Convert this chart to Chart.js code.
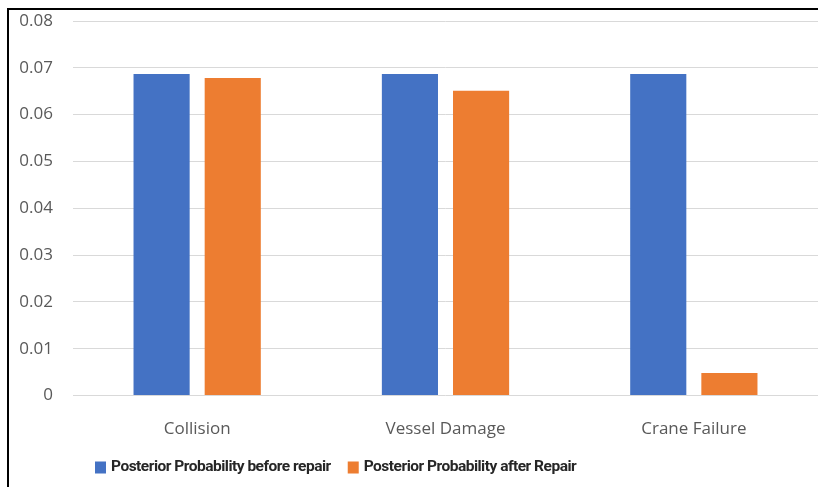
<!DOCTYPE html>
<html>
<head>
<meta charset="utf-8">
<script src="https://cdn.jsdelivr.net/npm/chart.js@4.4.1/dist/chart.umd.min.js"></script>
<style>
  html, body { margin: 0; padding: 0; background: #ffffff; }
  #wrap { width: 818px; height: 487px; position: relative; }
</style>
</head>
<body>
<div id="wrap"><canvas id="c" width="818" height="487"></canvas></div>
<script>
const categories = ['Collision', 'Vessel Damage', 'Crane Failure'];
const seriesNames = ['Posterior Probability before repair', 'Posterior Probability after Repair'];
const beforeRepair = [0.0687, 0.0687, 0.0687];
const afterRepair = [0.0678, 0.0651, 0.0048];
const yTickLabels = ['0', '0.01', '0.02', '0.03', '0.04', '0.05', '0.06', '0.07', '0.08'];

const BLUE = '#4472C4';
const ORANGE = '#ED7D31';
const TEXT = '#595959';

const framePlugin = {
  id: 'frame',
  beforeDraw(chart) {
    const ctx = chart.ctx;
    ctx.save();
    ctx.fillStyle = '#ffffff';
    ctx.fillRect(0, 0, chart.width, chart.height);
    ctx.fillStyle = '#000000';
    ctx.fillRect(7, 8, 2, chart.height - 8);
    ctx.fillRect(7, 8, chart.width - 7, 2);
    ctx.restore();
  }
};

const legendPlugin = {
  id: 'customLegend',
  afterDraw(chart) {
    const ctx = chart.ctx;
    ctx.save();
    ctx.font = 'bold 15.5px "Roboto", sans-serif';
    try { ctx.letterSpacing = '-0.5px'; } catch (e) {}
    ctx.textBaseline = 'middle';
    ctx.textAlign = 'left';
    let x = 95;
    const y = 467.5;
    chart.data.datasets.forEach(ds => {
      ctx.fillStyle = ds.backgroundColor;
      ctx.fillRect(x, y - 6, 11, 12);
      x += 16;
      ctx.fillStyle = '#262626';
      ctx.fillText(ds.label, x, y);
      x += ctx.measureText(ds.label).width + 17;
    });
    ctx.restore();
  }
};

new Chart(document.getElementById('c'), {
  type: 'bar',
  data: {
    labels: categories,
    datasets: [
      { label: seriesNames[0], data: beforeRepair, backgroundColor: BLUE },
      { label: seriesNames[1], data: afterRepair, backgroundColor: ORANGE }
    ]
  },
  options: {
    responsive: false,
    animation: false,
    devicePixelRatio: 1,
    categoryPercentage: 0.573,
    barPercentage: 0.789,
    layout: { padding: { top: 21, right: 0, bottom: 41.5, left: 0 } },
    plugins: {
      legend: { display: false },
      tooltip: { enabled: false }
    },
    scales: {
      x: {
        grid: { display: false },
        border: { display: false },
        ticks: {
          color: TEXT,
          font: { family: '"Open Sans", sans-serif', size: 17 },
          padding: 15,
          maxRotation: 0
        },
        afterFit(scale) { scale.height = 50; }
      },
      y: {
        min: 0,
        max: 0.08,
        grid: { color: '#d9d9d9', lineWidth: 1, drawTicks: false },
        border: { display: false },
        ticks: {
          stepSize: 0.01,
          color: TEXT,
          font: { family: '"Open Sans", sans-serif', size: 17 },
          padding: 20,
          callback: (v, i) => yTickLabels[i]
        },
        afterFit(scale) {
          scale.width = 73;
          scale.paddingTop = 0;
          scale.paddingBottom = 0;
        }
      }
    }
  },
  plugins: [framePlugin, legendPlugin]
});
</script>
</body>
</html>
